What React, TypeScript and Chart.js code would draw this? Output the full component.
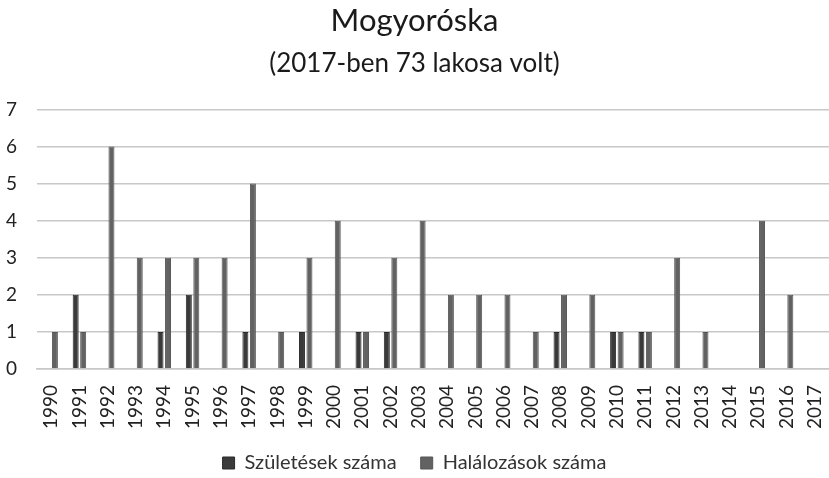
import React, { useEffect, useRef } from "react";
import { Chart, registerables } from "chart.js";

Chart.register(...registerables);

const years = ["1990","1991","1992","1993","1994","1995","1996","1997","1998","1999","2000","2001","2002","2003","2004","2005","2006","2007","2008","2009","2010","2011","2012","2013","2014","2015","2016","2017"];
const births = [0,2,0,0,1,2,0,1,0,1,0,1,1,0,0,0,0,0,1,0,1,1,0,0,0,0,0,0];
const deaths = [1,1,6,3,3,3,3,5,1,3,4,1,3,4,2,2,2,1,2,2,1,1,3,1,0,4,2,0];
const titleText = "Mogyoróska";
const subtitleText = "(2017-ben 73 lakosa volt)";
const seriesNames = ["Születések száma", "Halálozások száma"];

const FONT = "Lato, 'Open Sans', sans-serif";

export default function App() {
  const ref = useRef<HTMLCanvasElement>(null);
  useEffect(() => {
    if (!ref.current) return;
    const chart = new Chart(ref.current, {
      type: "bar",
      data: {
        labels: years,
        datasets: [
          { label: seriesNames[0], data: births, backgroundColor: "#3a3a3a", borderColor: "#2a2a2a", borderWidth: 1, categoryPercentage: 0.53, barPercentage: 0.8 },
          { label: seriesNames[1], data: deaths, backgroundColor: "#626262", borderColor: "#555555", borderWidth: 1, categoryPercentage: 0.53, barPercentage: 0.8 },
        ],
      },
      options: {
        animation: false,
        responsive: false,
        maintainAspectRatio: false,
        layout: { padding: { left: 0, right: 0, top: 2, bottom: -5 } },
        plugins: {
          title: { display: true, text: titleText, color: "#1a1a1a", font: { family: FONT, size: 31, weight: "normal" }, padding: { top: 0, bottom: 9 } },
          subtitle: { display: true, text: subtitleText, color: "#1a1a1a", font: { family: FONT, size: 26, weight: "normal" }, padding: { top: 0, bottom: 30 } },
          legend: {
            position: "bottom",
            labels: { color: "#333", font: { family: FONT, size: 20 }, boxWidth: 12, boxHeight: 12, padding: 24 },
          },
          tooltip: { enabled: false },
        },
        scales: {
          x: {
            afterFit: (scale: any) => { scale.paddingRight = 0; scale.paddingLeft = 0; scale.height = 60; },
            grid: { display: false, drawTicks: false },
            border: { display: true, color: "#c8c8c8", width: 1.5 },
            ticks: { color: "#222", font: { family: FONT, size: 19 }, maxRotation: 90, minRotation: 90, autoSkip: false, padding: 16 },
          },
          y: {
            min: 0,
            max: 7,
            afterFit: (scale: any) => { scale.width = 37; },
            grid: { color: "#c8c8c8", lineWidth: 1.5, drawTicks: false },
            border: { display: false },
            ticks: { stepSize: 1, color: "#222", font: { family: FONT, size: 19 }, padding: 20 },
          },
        },
      },
    });
    return () => chart.destroy();
  }, []);
  return (
    <div style={{ position: "fixed", left: 0, top: 0, width: 829, height: 478, background: "#fff" }}>
      <canvas ref={ref} width={829} height={478} />
    </div>
  );
}
